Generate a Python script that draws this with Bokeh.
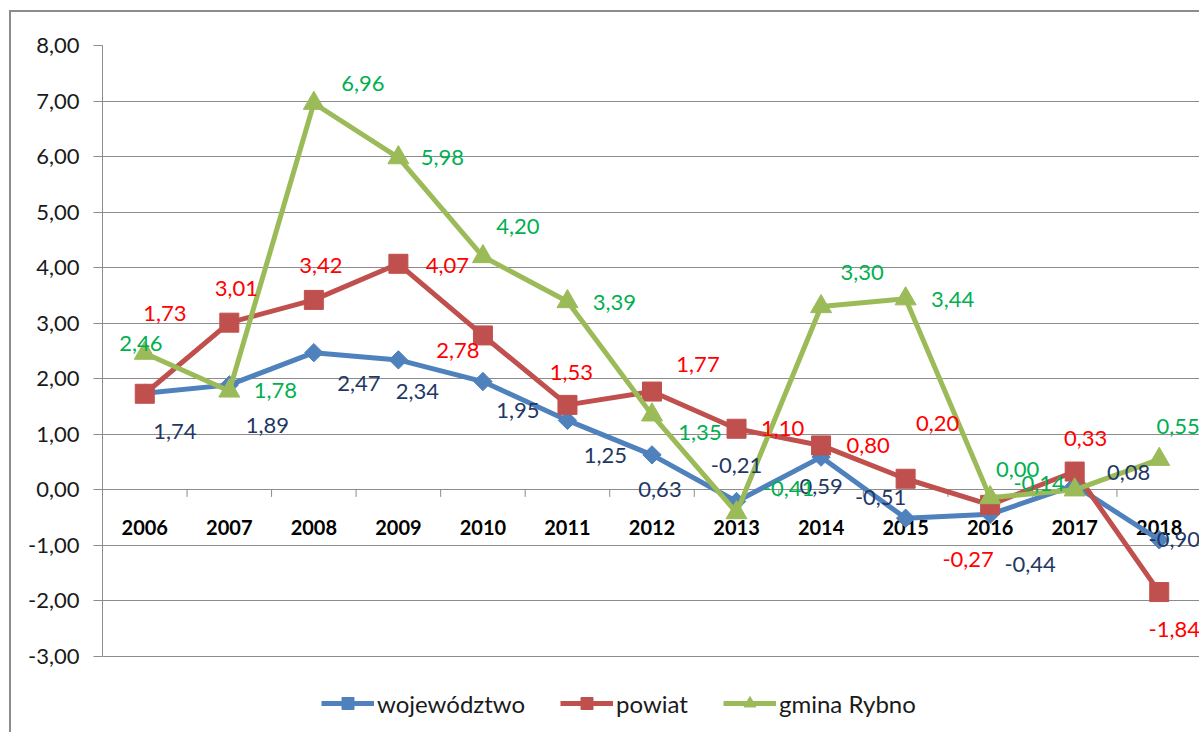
from bokeh.plotting import figure
from bokeh.models import (ColumnDataSource, Legend, LegendItem,
                          CustomJSTickFormatter, FixedTicker)
from bokeh.core.properties import value
from bokeh.embed import file_html
from bokeh.resources import INLINE

# ---- data ----
years = ["2006", "2007", "2008", "2009", "2010", "2011", "2012",
         "2013", "2014", "2015", "2016", "2017", "2018"]
wojewodztwo = [1.74, 1.89, 2.47, 2.34, 1.95, 1.25, 0.63, -0.21, 0.59, -0.51, -0.44, 0.08, -0.90]
powiat = [1.73, 3.01, 3.42, 4.07, 2.78, 1.53, 1.77, 1.10, 0.80, 0.20, -0.27, 0.33, -1.84]
gmina = [2.46, 1.78, 6.96, 5.98, 4.20, 3.39, 1.35, -0.41, 3.30, 3.44, -0.14, 0.00, 0.55]
y_ticks = [-3, -2, -1, 0, 1, 2, 3, 4, 5, 6, 7, 8]
series_names = ["województwo", "powiat", "gmina Rybno"]

# ---- label placement (screen px, y downwards) ----
woj_dx = [30, 38, 45, 19, 35, 38, 8, 0, 0, -25, 40, 54, 15]
woj_dy = [38, 41, 31, 32, 29, 35, 35, -36, 29, -21, 50, -13, 0]
pow_dx = [20, 7, 7, 49, -25, 4, 46, 46, 47, 32, -22, 11, 15]
pow_dy = [-80, -34, -34, 2, 15, -32, -27, 0, 0, -55, 55, -33, 37]
gm_dx = [-4, 46, 49, 44, 35, 47, 48, 52, 41, 47, 49, -57, 19]
gm_dy = [-10, 0, -20, 0, -30, 1, 18, -24, -34, 1, -14, -20, -33]

FONT = value("Lato")
GRID = "#8c8c8c"

idx = list(range(len(years)))

# plot area: 8 at 33px from canvas top, -3 at 644px; canvas is 722px tall,
# the strip below -3 holds the legend
PLOT_H = 722
TOP = 33
px_per_unit = (644 - TOP) / (max(y_ticks) - min(y_ticks))
y_bottom = min(y_ticks) - (PLOT_H - 644) / px_per_unit

p = figure(width=1190, height=PLOT_H, x_range=(-0.5, len(years) - 0.5),
           y_range=(y_bottom, max(y_ticks)),
           output_backend="svg", toolbar_location=None, x_axis_location=None,
           min_border_left=91, min_border_right=0, min_border_top=TOP, min_border_bottom=0)
p.styles = {"margin-top": "10px", "margin-left": "9px",
            "border-left": "2px solid #8c8c8c", "border-top": "2px solid #8c8c8c"}
p.outline_line_color = None
p.background_fill_color = "white"
p.border_fill_color = "white"

# y axis
p.yaxis.ticker = FixedTicker(ticks=y_ticks)
p.yaxis.bounds = (min(y_ticks), max(y_ticks))
p.yaxis.formatter = CustomJSTickFormatter(code="return tick.toFixed(2).replace('.', ',');")
p.yaxis.axis_line_color = GRID
p.yaxis.major_tick_line_color = GRID
p.yaxis.major_tick_out = 9
p.yaxis.major_tick_in = 0
p.yaxis.minor_tick_line_color = None
p.yaxis.major_label_standoff = 14
p.yaxis.major_label_text_font = "Lato"
p.yaxis.major_label_text_font_size = "22px"
p.yaxis.major_label_text_color = "#1a1a1a"

p.ygrid.ticker = FixedTicker(ticks=y_ticks)
p.ygrid.grid_line_color = GRID
p.xgrid.grid_line_color = None

# category boundary ticks below the zero line
bounds = [i + 0.5 for i in idx[:-1]]
p.segment(x0=bounds, y0=[0] * len(bounds), x1=bounds, y1=[-7 / px_per_unit] * len(bounds),
          line_color=GRID, line_width=1)

# category labels on the zero line
p.text(x=idx, y=[0] * len(idx), text=years, y_offset=38, text_align="center",
       text_baseline="middle", text_font=FONT, text_font_size="20px",
       text_font_style="bold", text_color="#000000")

series = [
    (wojewodztwo, "#4F81BD", "square", 13, 0.785398, "#1F3864", woj_dx, woj_dy),
    (powiat, "#C0504D", "square", 19, 0.0, "#FF0000", pow_dx, pow_dy),
    (gmina, "#9BBB59", "triangle", 21, 0.0, "#00B050", gm_dx, gm_dy),
]

items = []
label_sources = []
for (vals, col, mk, sz, ang, lcol, dx, dy), name in zip(series, series_names):
    src = ColumnDataSource(dict(x=idx, y=vals,
                                label=[f"{v:.2f}".replace(".", ",") for v in vals],
                                dx=dx, dy=dy))
    ln = p.line("x", "y", source=src, line_color=col, line_width=5)
    sc = p.scatter("x", "y", source=src, marker=mk, size=sz, angle=ang,
                   fill_color=col, line_color=col)
    items.append(LegendItem(label=name, renderers=[ln, sc]))
    label_sources.append((src, lcol))

for src, lcol in label_sources:
    p.text(x="x", y="y", text="label", x_offset="dx", y_offset="dy", source=src,
           text_align="center", text_baseline="middle", text_font=FONT,
           text_font_size="22px", text_color=lcol)

legend = Legend(items=items, location=(219, 16), orientation="horizontal",
                glyph_width=53, glyph_height=30, label_standoff=3, spacing=35,
                padding=5, margin=0, border_line_color=None, background_fill_alpha=0,
                label_text_font="Lato", label_text_font_size="24px",
                label_text_color="#1a1a1a")
p.add_layout(legend)

open("out.html", "w").write(file_html(p, INLINE))
